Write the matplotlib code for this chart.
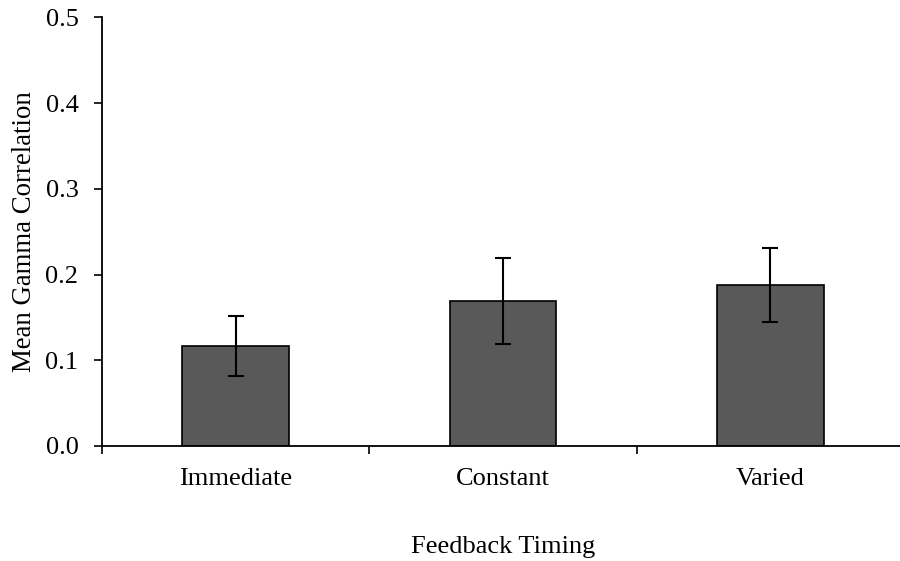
import matplotlib.pyplot as plt

# Data
conditions = ["Immediate", "Constant", "Varied"]
mean_gamma = [0.117, 0.169, 0.188]
error = [0.035, 0.050, 0.043]
y_ticks = [0.0, 0.1, 0.2, 0.3, 0.4, 0.5]

plt.rcParams['font.family'] = ['Liberation Serif', 'DejaVu Serif']

fig = plt.figure(figsize=(9, 5.61), dpi=100)
# axis runs off the right edge like in the original
ax = fig.add_axes([102 / 900, 1 - 446 / 561, 802 / 900, (446 - 17.3) / 561])

positions = list(range(len(conditions)))
ax.bar(positions, mean_gamma, width=0.4, color='#595959',
       edgecolor='black', linewidth=1.2, zorder=2)
ax.errorbar(positions, mean_gamma, yerr=error, fmt='none', ecolor='black',
            elinewidth=1.5, capsize=6, capthick=1.5, zorder=3)

ax.set_xlim(-0.5, 2.5)
ax.set_ylim(0, 0.5)
ax.set_yticks(y_ticks)
ax.set_yticklabels([f"{v:.1f}" for v in y_ticks])

# category boundaries carry the x ticks, labels sit in between
ax.set_xticks([-0.5, 0.5, 1.5, 2.5])
ax.set_xticklabels([])
ax.set_xticks(positions, minor=True)
ax.set_xticklabels(conditions, minor=True)
ax.tick_params(axis='x', which='minor', length=0, pad=16, labelsize=19)
ax.tick_params(axis='x', which='major', length=6, width=1.2, direction='out')
ax.tick_params(axis='y', length=6, width=1.2, direction='out', pad=11,
               labelsize=19)

for side in ['top', 'right']:
    ax.spines[side].set_visible(False)
ax.spines['left'].set_linewidth(1.3)
ax.spines['bottom'].set_linewidth(1.3)

ax.set_ylabel("Mean Gamma Correlation", fontsize=19.3, labelpad=6)
ax.set_xlabel("Feedback Timing", fontsize=19)
ax.xaxis.set_label_coords(0.5, -0.21)

fig.savefig("out.png", dpi=100)
